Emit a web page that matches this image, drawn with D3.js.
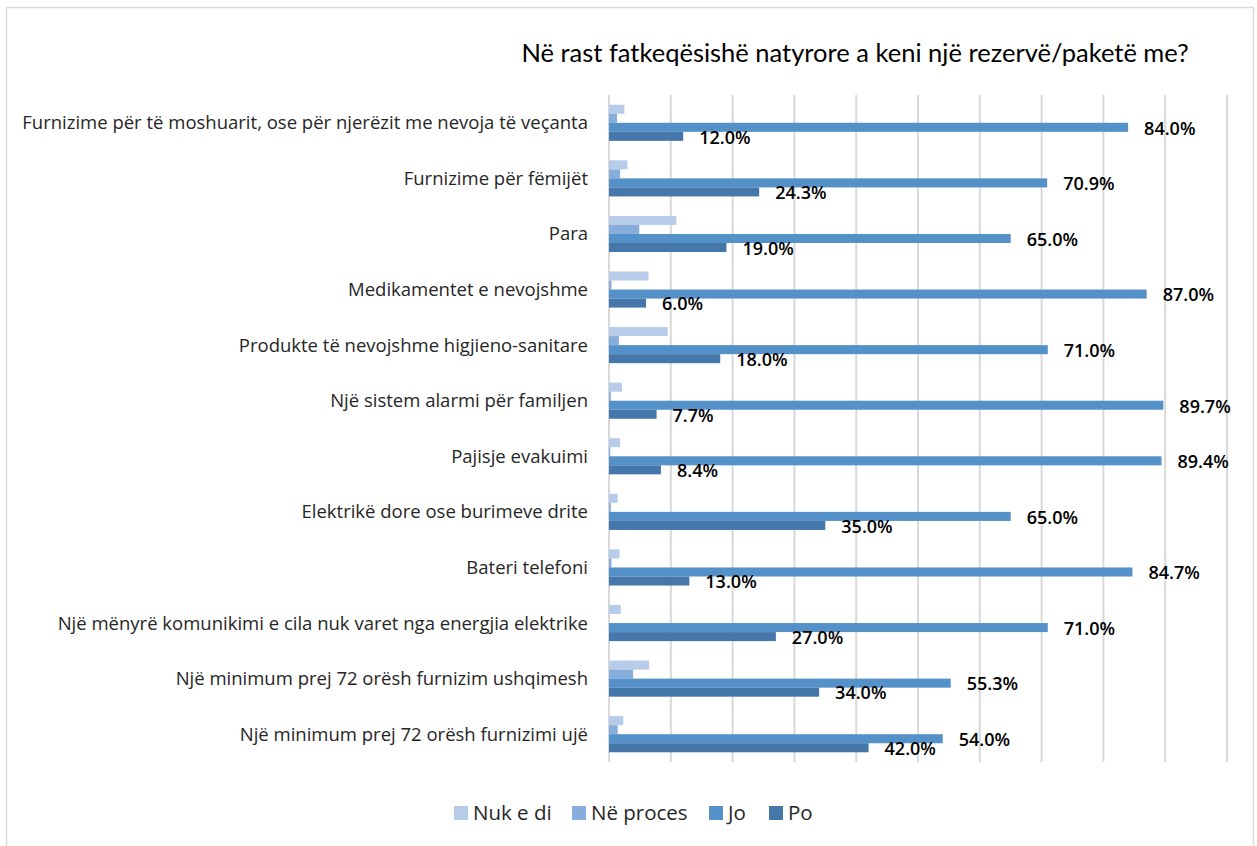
<!DOCTYPE html>
<html>
<head>
<meta charset="utf-8">
<script src="https://cdn.jsdelivr.net/npm/d3@7"></script>
<style>
  body { margin: 0; background: #fff; }
  .cat { font-family: "Open Sans", sans-serif; font-size: 18.5px; fill: #262626; }
  .lbl { font-family: "Open Sans", sans-serif; font-size: 18px; font-weight: 600; fill: #000; }
  .title { font-family: Lato, sans-serif; font-size: 25.5px; fill: #000; }
  .leg { font-family: "Open Sans", sans-serif; font-size: 20.5px; fill: #262626; }
</style>
</head>
<body>
<div id="chart"></div>
<script>
const categories = [
    "Furnizime për të moshuarit, ose për njerëzit me nevoja të veçanta",
    "Furnizime për fëmijët",
    "Para",
    "Medikamentet e nevojshme",
    "Produkte të nevojshme higjieno-sanitare",
    "Një sistem alarmi për familjen",
    "Pajisje evakuimi",
    "Elektrikë dore ose burimeve drite",
    "Bateri telefoni",
    "Një mënyrë komunikimi e cila nuk varet nga energjia elektrike",
    "Një minimum prej 72 orësh furnizim ushqimesh",
    "Një minimum prej 72 orësh furnizimi ujë"
];
const seriesNames = ["Nuk e di", "Në proces", "Jo", "Po"];
const nukEDi  = [2.5, 3.0, 10.9, 6.4, 9.5, 2.1, 1.8, 1.4, 1.7, 1.9, 6.5, 2.3];
const neProces = [1.3, 1.8, 4.9, 0.4, 1.6, 0.3, 0.2, 0.3, 0.4, 0.0, 3.9, 1.4];
const jo = [84.0, 70.9, 65.0, 87.0, 71.0, 89.7, 89.4, 65.0, 84.7, 71.0, 55.3, 54.0];
const po = [12.0, 24.3, 19.0, 6.0, 18.0, 7.7, 8.4, 35.0, 13.0, 27.0, 34.0, 42.0];
const colors = ["#b7cce9", "#86addc", "#5491c9", "#4677aa"];
const labelled = ["Jo", "Po"];

const seriesValues = [nukEDi, neProces, jo, po];
const rows = [];
categories.forEach((c, i) => {
    seriesNames.forEach((s, j) => {
        rows.push({cat: c, series: s, value: seriesValues[j][i], color: colors[j]});
    });
});

const width = 1257;
const height = 846;
const margin = {top: 95, right: 30, bottom: 84, left: 609};

const svg = d3.select("#chart")
    .append("svg")
    .attr("width", width)
    .attr("height", height);

// chart border
svg.append("rect")
    .attr("x", 6.5)
    .attr("y", 7.5)
    .attr("width", 1247)
    .attr("height", 845)
    .attr("fill", "none")
    .attr("stroke", "#d9d9d9")
    .attr("stroke-width", 1.5);

const x = d3.scaleLinear()
    .domain([0, 100])
    .range([margin.left, width - margin.right]);

const y = d3.scaleBand()
    .domain(categories)
    .range([margin.top, height - margin.bottom])
    .paddingInner(0.35)
    .paddingOuter(0.175);

const ySub = d3.scaleBand()
    .domain(seriesNames)
    .range([0, y.bandwidth()]);

// vertical gridlines
svg.append("g")
    .selectAll("line")
    .data(x.ticks(10))
    .enter().append("line")
    .attr("x1", d => x(d))
    .attr("x2", d => x(d))
    .attr("y1", margin.top)
    .attr("y2", height - margin.bottom)
    .attr("stroke", "#d9d9d9")
    .attr("stroke-width", 2);

// bars
svg.append("g")
    .selectAll("rect")
    .data(rows)
    .enter().append("rect")
    .attr("x", x(0))
    .attr("y", d => y(d.cat) + ySub(d.series))
    .attr("width", d => x(d.value) - x(0))
    .attr("height", ySub.bandwidth())
    .attr("fill", d => d.color);

// data labels for Jo and Po
svg.append("g")
    .selectAll("text")
    .data(rows.filter(d => labelled.includes(d.series)))
    .enter().append("text")
    .attr("class", "lbl")
    .attr("x", d => x(d.value) + 16)
    .attr("y", d => y(d.cat) + ySub(d.series) + ySub.bandwidth() / 2 + 1)
    .attr("dy", "0.35em")
    .text(d => d.value.toFixed(1) + "%");

// category labels
svg.append("g")
    .selectAll("text")
    .data(categories)
    .enter().append("text")
    .attr("class", "cat")
    .attr("x", margin.left - 21)
    .attr("y", d => y(d) + y.bandwidth() / 2)
    .attr("dy", "0.35em")
    .attr("text-anchor", "end")
    .text(d => d);

// title
svg.append("text")
    .attr("class", "title")
    .attr("x", 855)
    .attr("y", 62)
    .attr("text-anchor", "middle")
    .text("Në rast fatkeqësishë natyrore a keni një rezervë/paketë me?");

// legend
const legendX = [454, 572, 709, 769];
const legend = svg.append("g")
    .selectAll("g")
    .data(seriesNames)
    .enter().append("g")
    .attr("transform", (d, i) => `translate(${legendX[i]},806)`);

legend.append("rect")
    .attr("width", 14)
    .attr("height", 14)
    .attr("fill", (d, i) => colors[i]);

legend.append("text")
    .attr("class", "leg")
    .attr("x", 19)
    .attr("y", 7)
    .attr("dy", "0.35em")
    .text(d => d);
</script>
</body>
</html>
